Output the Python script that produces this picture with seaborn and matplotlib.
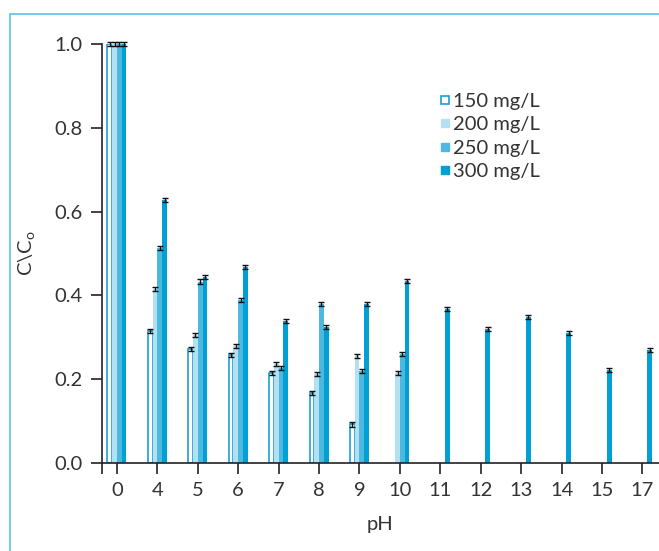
import numpy as np
import pandas as pd
import matplotlib
matplotlib.use("Agg")
import matplotlib.pyplot as plt
from matplotlib.patches import Rectangle
from matplotlib.lines import Line2D
import seaborn as sns

ph_labels = ["0", "4", "5", "6", "7", "8", "9", "10", "11", "12", "13", "14", "15", "17"]
series_names = ["150 mg/L", "200 mg/L", "250 mg/L", "300 mg/L"]
c150 = [1.0, 0.315, 0.272, 0.257, 0.214, 0.168, 0.092, np.nan, np.nan, np.nan, np.nan, np.nan, np.nan, np.nan]
c200 = [1.0, 0.415, 0.305, 0.279, 0.236, 0.213, 0.255, 0.215, np.nan, np.nan, np.nan, np.nan, np.nan, np.nan]
c250 = [1.0, 0.513, 0.433, 0.389, 0.227, 0.379, 0.220, 0.260, np.nan, np.nan, np.nan, np.nan, np.nan, np.nan]
c300 = [1.0, 0.628, 0.443, 0.468, 0.338, 0.325, 0.379, 0.434, 0.367, 0.320, 0.348, 0.310, 0.222, 0.270]
err = 0.005
colors = ["#ffffff", "#b3e1f2", "#4db8e0", "#009fd4"]
edge150 = "#1a9fd4"

rows = []
for name, vals in zip(series_names, [c150, c200, c250, c300]):
    for ph, v in zip(ph_labels, vals):
        rows.append({"pH": ph, "conc": name, "value": v})
df = pd.DataFrame(rows)

sns.set_theme(style="ticks")
plt.rcParams["font.family"] = ["Lato", "DejaVu Sans"]
plt.rcParams["mathtext.fontset"] = "custom"
plt.rcParams["mathtext.rm"] = "Lato"
text_color = "#333333"
fs = 14.5

fig = plt.figure(figsize=(6.59, 5.51), dpi=100)
ax = fig.add_axes([102 / 659, 88 / 551, 557 / 659, 419 / 551])

sns.barplot(data=df, x="pH", y="value", hue="conc", order=ph_labels,
            hue_order=series_names, palette=colors, width=0.47,
            errorbar=None, ax=ax, legend=False, saturation=1,
            linewidth=0)

# styling + error bars
bar_containers = list(ax.containers)
for i, cont in enumerate(bar_containers):
    for p in cont.patches:
        h = p.get_height()
        if np.isnan(h) or h == 0:
            continue
        if i == 0:
            p.set_facecolor("white")
            p.set_edgecolor(edge150)
            p.set_linewidth(1.2)
        x = p.get_x() + p.get_width() / 2
        ax.errorbar(x, h, yerr=err, color="#111111", capsize=2, elinewidth=1,
                    capthick=1, clip_on=False, zorder=5)

ax.set_xlim(-0.37, 13.41)
ax.set_ylim(0, 1.0)
ax.set_yticks([0, 0.2, 0.4, 0.6, 0.8, 1.0])
ax.set_yticklabels(["0.0", "0.2", "0.4", "0.6", "0.8", "1.0"])
ax.set_xticks(range(len(ph_labels)))
ax.set_xticklabels(ph_labels)
ax.set_xticks([-0.37], minor=True)
ax.tick_params(axis="both", which="both", length=8, width=1.2, color="#222222",
               labelsize=fs, labelcolor=text_color, pad=6)
sns.despine(ax=ax, top=True, right=True)
ax.spines["left"].set_linewidth(1.2)
ax.spines["bottom"].set_linewidth(1.2)
ax.spines["left"].set_color("#222222")
ax.spines["bottom"].set_color("#222222")

ax.set_xlabel("pH", fontsize=fs, color=text_color, labelpad=12)
ax.set_ylabel(r"C\C$_{\mathrm{o}}$", fontsize=fs, color=text_color, labelpad=12)

handles = [
    Line2D([], [], marker="s", linestyle="", markersize=6, markerfacecolor="white",
           markeredgecolor=edge150, markeredgewidth=1.2),
    Line2D([], [], marker="s", linestyle="", markersize=6, markerfacecolor=colors[1],
           markeredgecolor=colors[1]),
    Line2D([], [], marker="s", linestyle="", markersize=6, markerfacecolor=colors[2],
           markeredgecolor=colors[2]),
    Line2D([], [], marker="s", linestyle="", markersize=6, markerfacecolor=colors[3],
           markeredgecolor=colors[3]),
]
leg = ax.legend(handles, series_names, loc="upper left", bbox_to_anchor=(0.593, 0.903),
                frameon=False, fontsize=fs, handlelength=0.5, handletextpad=0.15,
                labelspacing=0.32, borderaxespad=0)
for t in leg.get_texts():
    t.set_color(text_color)

# outer light-blue frame
fig.patches.append(Rectangle((10 / 659, -0.1), 1.2, (551 - 14) / 551 + 0.1,
                             transform=fig.transFigure, fill=False,
                             edgecolor="#5bc0e8", linewidth=1.2))

fig.savefig("out.png", dpi=100)
